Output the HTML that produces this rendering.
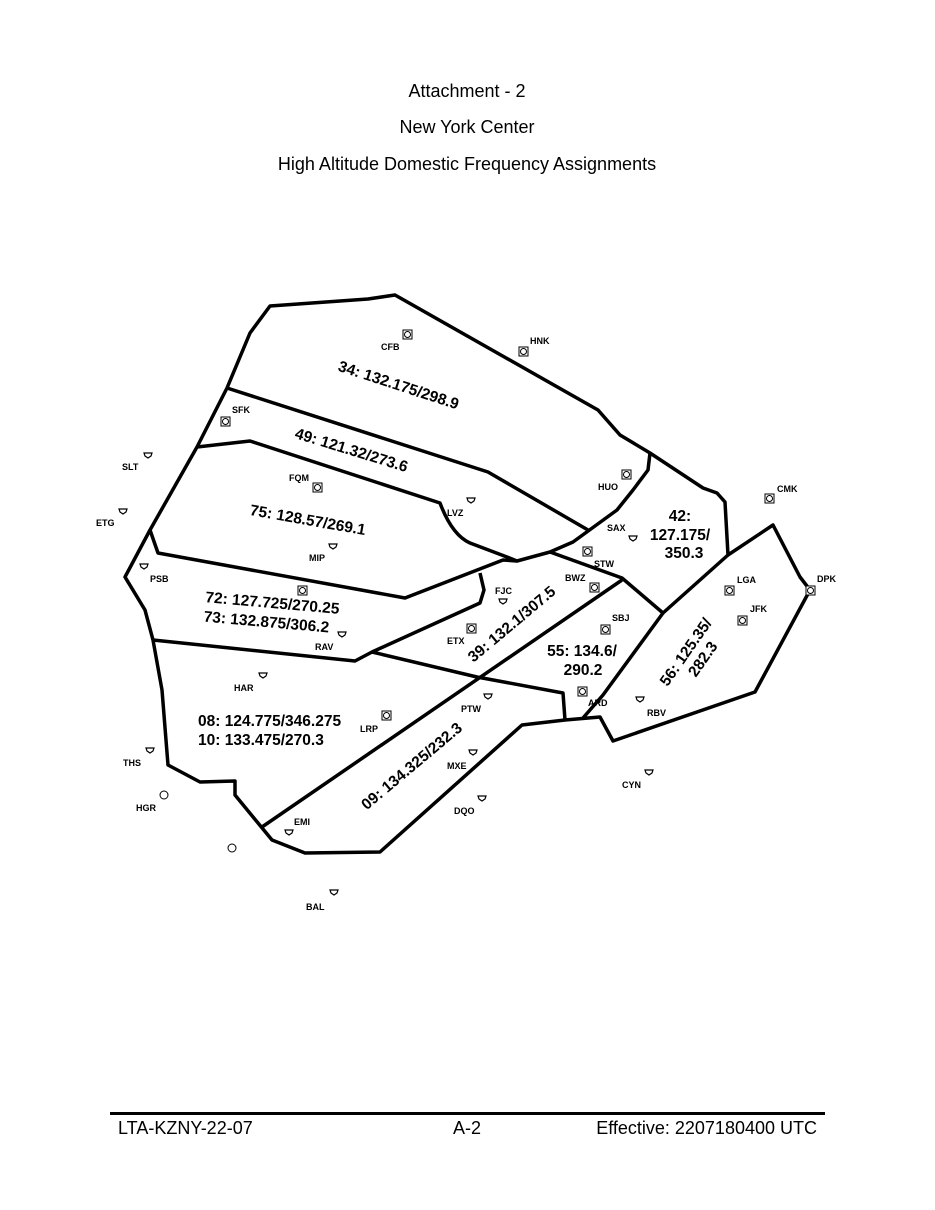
<!DOCTYPE html>
<html><head><meta charset="utf-8"><style>
body{margin:0;background:#fff;}
svg{display:block;}
.t{font-family:"Liberation Sans",sans-serif;font-size:18px;fill:#000;}
.n{font-family:"Liberation Sans",sans-serif;font-size:9px;font-weight:bold;fill:#000;}
.f{font-family:"Liberation Sans",sans-serif;font-size:15.5px;font-weight:bold;fill:#000;}
</style></head><body>
<svg width="935" height="1210" viewBox="0 0 935 1210">
<text class="t" x="467" y="97" text-anchor="middle">Attachment - 2</text>
<text class="t" x="467" y="133" text-anchor="middle">New York Center</text>
<text class="t" x="467" y="170" text-anchor="middle">High Altitude Domestic Frequency Assignments</text>

<g fill="none" stroke="#000" stroke-width="3.5" stroke-linejoin="round">
<path d="M270,306 L368,299 L395,295 L598,410 L620,435 L650,453 L703,488 L717,493 L725,502 L728,555 L773,525 L800,577 L810,590 L755,692 L613,741 L600,717 L565,720 L522,725 L380,852 L305,853 L272,840 L235,795 L235,781 L200,782 L168,765 L162,690 L153,640 L145,610 L125,577 L150,530 L197,447 L227,388 L250,333 Z"/>
<path d="M227,388 L488,472 L588,530"/>
<path d="M197,447 L250,441 L440,503 Q452,535 470,543 L507,557 L517,561 L550,552 L573,542 L617,510 L633,490 L648,470 L650,453"/>
<path d="M550,552 L622,578 L663,613 L728,555"/>
<path d="M663,613 L603,695 L583,718"/>
<path d="M622,580 L262,827"/>
<path d="M150,530 L158,553 L405,598 L503,560 L517,561"/>
<path d="M480,573 L484,590 L480,603 L372,652 L355,661 L153,640"/>
<path d="M372,652 L477,677 L563,693 L565,720"/>
</g>

<g fill="#fff" stroke="#000" stroke-width="1">
<rect x="403" y="330" width="9" height="9"/><circle cx="407.5" cy="334.5" r="3"/>
<rect x="519" y="347" width="9" height="9"/><circle cx="523.5" cy="351.5" r="3"/>
<rect x="221" y="417" width="9" height="9"/><circle cx="225.5" cy="421.5" r="3"/>
<rect x="313" y="483" width="9" height="9"/><circle cx="317.5" cy="487.5" r="3"/>
<rect x="622" y="470" width="9" height="9"/><circle cx="626.5" cy="474.5" r="3"/>
<rect x="583" y="547" width="9" height="9"/><circle cx="587.5" cy="551.5" r="3"/>
<rect x="590" y="583" width="9" height="9"/><circle cx="594.5" cy="587.5" r="3"/>
<rect x="601" y="625" width="9" height="9"/><circle cx="605.5" cy="629.5" r="3"/>
<rect x="765" y="494" width="9" height="9"/><circle cx="769.5" cy="498.5" r="3"/>
<rect x="725" y="586" width="9" height="9"/><circle cx="729.5" cy="590.5" r="3"/>
<rect x="738" y="616" width="9" height="9"/><circle cx="742.5" cy="620.5" r="3"/>
<rect x="806" y="586" width="9" height="9"/><circle cx="810.5" cy="590.5" r="3"/>
<rect x="467" y="624" width="9" height="9"/><circle cx="471.5" cy="628.5" r="3"/>
<rect x="382" y="711" width="9" height="9"/><circle cx="386.5" cy="715.5" r="3"/>
<rect x="578" y="687" width="9" height="9"/><circle cx="582.5" cy="691.5" r="3"/>
<rect x="298" y="586" width="9" height="9"/><circle cx="302.5" cy="590.5" r="3"/>
<circle cx="164" cy="795" r="4"/><circle cx="232" cy="848" r="4"/>
</g>
<g fill="#fff" stroke="#000" stroke-width="1.2">
<path d="M-4,-2 L4,-2 L3,1 L0,3 L-3,1 Z" transform="translate(148,455)"/>
<path d="M-4,-2 L4,-2 L3,1 L0,3 L-3,1 Z" transform="translate(123,511)"/>
<path d="M-4,-2 L4,-2 L3,1 L0,3 L-3,1 Z" transform="translate(471,500)"/>
<path d="M-4,-2 L4,-2 L3,1 L0,3 L-3,1 Z" transform="translate(633,538)"/>
<path d="M-4,-2 L4,-2 L3,1 L0,3 L-3,1 Z" transform="translate(333,546)"/>
<path d="M-4,-2 L4,-2 L3,1 L0,3 L-3,1 Z" transform="translate(144,566)"/>
<path d="M-4,-2 L4,-2 L3,1 L0,3 L-3,1 Z" transform="translate(503,601)"/>
<path d="M-4,-2 L4,-2 L3,1 L0,3 L-3,1 Z" transform="translate(342,634)"/>
<path d="M-4,-2 L4,-2 L3,1 L0,3 L-3,1 Z" transform="translate(263,675)"/>
<path d="M-4,-2 L4,-2 L3,1 L0,3 L-3,1 Z" transform="translate(488,696)"/>
<path d="M-4,-2 L4,-2 L3,1 L0,3 L-3,1 Z" transform="translate(150,750)"/>
<path d="M-4,-2 L4,-2 L3,1 L0,3 L-3,1 Z" transform="translate(473,752)"/>
<path d="M-4,-2 L4,-2 L3,1 L0,3 L-3,1 Z" transform="translate(482,798)"/>
<path d="M-4,-2 L4,-2 L3,1 L0,3 L-3,1 Z" transform="translate(649,772)"/>
<path d="M-4,-2 L4,-2 L3,1 L0,3 L-3,1 Z" transform="translate(640,699)"/>
<path d="M-4,-2 L4,-2 L3,1 L0,3 L-3,1 Z" transform="translate(289,832)"/>
<path d="M-4,-2 L4,-2 L3,1 L0,3 L-3,1 Z" transform="translate(334,892)"/>
</g>

<g class="n">
<text class="n" x="381" y="350">CFB</text><text class="n" x="530" y="344">HNK</text>
<text class="n" x="232" y="413">SFK</text><text class="n" x="122" y="470">SLT</text>
<text class="n" x="96" y="526">ETG</text><text class="n" x="289" y="481">FQM</text>
<text class="n" x="447" y="516">LVZ</text><text class="n" x="598" y="490">HUO</text>
<text class="n" x="607" y="531">SAX</text><text class="n" x="777" y="492">CMK</text>
<text class="n" x="594" y="567">STW</text><text class="n" x="565" y="581">BWZ</text>
<text class="n" x="309" y="561">MIP</text><text class="n" x="150" y="582">PSB</text>
<text class="n" x="495" y="594">FJC</text><text class="n" x="737" y="583">LGA</text>
<text class="n" x="750" y="612">JFK</text><text class="n" x="817" y="582">DPK</text>
<text class="n" x="612" y="621">SBJ</text><text class="n" x="447" y="644">ETX</text>
<text class="n" x="315" y="650">RAV</text><text class="n" x="234" y="691">HAR</text>
<text class="n" x="588" y="706">ARD</text><text class="n" x="647" y="716">RBV</text>
<text class="n" x="461" y="712">PTW</text><text class="n" x="360" y="732">LRP</text>
<text class="n" x="123" y="766">THS</text><text class="n" x="447" y="769">MXE</text>
<text class="n" x="136" y="811">HGR</text><text class="n" x="622" y="788">CYN</text>
<text class="n" x="454" y="814">DQO</text><text class="n" x="294" y="825">EMI</text>
<text class="n" x="306" y="910">BAL</text>
</g>

<g class="f">
<text class="f" text-anchor="middle" transform="translate(397,390) rotate(18)">34: 132.175/298.9</text>
<text class="f" text-anchor="middle" transform="translate(350,455) rotate(17)">49: 121.32/273.6</text>
<text class="f" text-anchor="middle" transform="translate(307,525) rotate(10)">75: 128.57/269.1</text>
<text class="f" text-anchor="middle" transform="translate(272,608) rotate(5)">72: 127.725/270.25</text>
<text class="f" text-anchor="middle" transform="translate(266,627) rotate(5)">73: 132.875/306.2</text>
<text class="f" x="680" y="521" text-anchor="middle">42:</text>
<text class="f" x="680" y="540" text-anchor="middle">127.175/</text>
<text class="f" x="684" y="558" text-anchor="middle">350.3</text>
<text class="f" text-anchor="middle" transform="translate(515,628) rotate(-40)">39: 132.1/307.5</text>
<text class="f" x="582" y="656" text-anchor="middle">55: 134.6/</text>
<text class="f" x="583" y="675" text-anchor="middle">290.2</text>
<g transform="translate(690,655) rotate(-55)">
<text class="f" x="0" y="0" text-anchor="middle">56: 125.35/</text>
<text class="f" x="4" y="18" text-anchor="middle">282.3</text></g>
<text class="f" x="198" y="726">08: 124.775/346.275</text>
<text class="f" x="198" y="745">10: 133.475/270.3</text>
<text class="f" text-anchor="middle" transform="translate(415,770) rotate(-40)">09: 134.325/232.3</text>
</g>

<rect x="110" y="1112" width="715" height="3" fill="#000"/>
<text class="t" x="118" y="1134">LTA-KZNY-22-07</text>
<text class="t" x="467" y="1134" text-anchor="middle">A-2</text>
<text class="t" x="817" y="1134" text-anchor="end">Effective: 2207180400 UTC</text>
</svg>
</body></html>
